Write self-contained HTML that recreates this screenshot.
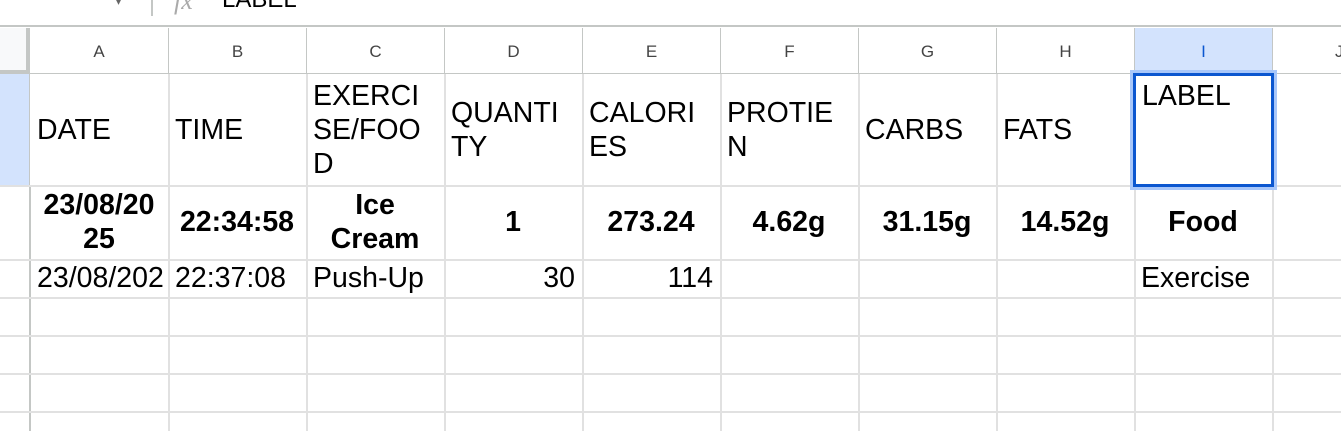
<!DOCTYPE html>
<html><head><meta charset="utf-8"><style>
body{margin:0;width:1341px;height:431px;overflow:hidden;background:#fff;font-family:"Liberation Sans",Arial,sans-serif;position:relative}
.a{position:absolute;box-sizing:border-box}
.vl{position:absolute;width:1px;background:#e1e1e1}
.hl{position:absolute;height:1px;background:#e1e1e1}
.ch{position:absolute;top:28px;height:46px;line-height:48px;text-align:center;color:#444;font-size:17px;border-right:1px solid #c4c7c5;border-bottom:1px solid #c4c7c5;box-sizing:border-box}
.c{position:absolute;font-size:28.5px;color:#000;line-height:34px;display:flex;flex-direction:column;justify-content:center;box-sizing:border-box;padding:0 7px;overflow:hidden;white-space:nowrap}
.b{font-weight:bold;text-align:center;align-items:center}
.r{text-align:right;align-items:flex-end}
</style></head><body>
<div class="a" style="left:0;top:0;width:1341px;height:27px;border-bottom:2px solid #c4c7c5">
 <div class="a" style="left:115px;top:-8px;color:#666;font-size:14px">▾</div>
 <div class="a" style="left:151px;top:0;width:2px;height:16px;background:#c4c7c5"></div>
 <div class="a" style="left:174px;top:-14px;color:#aaa;font-style:italic;font-family:'Liberation Serif',serif;font-size:26px">fx</div>
 <div class="a" style="left:222px;top:-14px;font-size:24px;color:#000">LABEL</div>
</div>
<div class="a" style="left:0;top:28px;width:30px;height:46px;background:#f8f9fa;border-right:4px solid #c4c7c5;border-bottom:4px solid #c4c7c5"></div>
<div class="ch" style="left:30px;width:139px">A</div>
<div class="ch" style="left:169px;width:138px">B</div>
<div class="ch" style="left:307px;width:138px">C</div>
<div class="ch" style="left:445px;width:138px">D</div>
<div class="ch" style="left:583px;width:138px">E</div>
<div class="ch" style="left:721px;width:138px">F</div>
<div class="ch" style="left:859px;width:138px">G</div>
<div class="ch" style="left:997px;width:138px">H</div>
<div class="ch" style="left:1135px;width:138px;background:#d3e3fd;color:#0b57d0">I</div>
<div class="ch" style="left:1273px;width:100px;text-align:left;padding-left:62px">J</div>
<div class="a" style="left:0;top:74px;width:30px;height:111px;background:#d3e3fd;border-right:1px solid #c4c7c5"></div>
<div class="a" style="left:0;top:185px;width:31px;height:246px;border-right:2px solid #c4c7c5"></div>
<div class="hl" style="left:0;top:185px;width:1341px;height:2px"></div>
<div class="hl" style="left:0;top:259px;width:1341px;height:2px"></div>
<div class="hl" style="left:0;top:297px;width:1341px;height:2px"></div>
<div class="hl" style="left:0;top:335px;width:1341px;height:2px"></div>
<div class="hl" style="left:0;top:373px;width:1341px;height:2px"></div>
<div class="hl" style="left:0;top:411px;width:1341px;height:2px"></div>
<div class="vl" style="left:168px;top:74px;height:357px;width:2px"></div>
<div class="vl" style="left:306px;top:74px;height:357px;width:2px"></div>
<div class="vl" style="left:444px;top:74px;height:357px;width:2px"></div>
<div class="vl" style="left:582px;top:74px;height:357px;width:2px"></div>
<div class="vl" style="left:720px;top:74px;height:357px;width:2px"></div>
<div class="vl" style="left:858px;top:74px;height:357px;width:2px"></div>
<div class="vl" style="left:996px;top:74px;height:357px;width:2px"></div>
<div class="vl" style="left:1134px;top:74px;height:357px;width:2px"></div>
<div class="vl" style="left:1272px;top:74px;height:357px;width:2px"></div>

<div class="c" style="left:30px;top:74px;width:138px;height:111px">DATE</div>
<div class="c" style="left:168px;top:74px;width:138px;height:111px">TIME</div>
<div class="c" style="left:306px;top:74px;width:138px;height:111px"><div>EXERCI</div><div>SE/FOO</div><div>D</div></div>
<div class="c" style="left:444px;top:74px;width:138px;height:111px"><div>QUANTI</div><div>TY</div></div>
<div class="c" style="left:582px;top:74px;width:138px;height:111px"><div>CALORI</div><div>ES</div></div>
<div class="c" style="left:720px;top:74px;width:138px;height:111px"><div>PROTIE</div><div>N</div></div>
<div class="c" style="left:858px;top:74px;width:138px;height:111px">CARBS</div>
<div class="c" style="left:996px;top:74px;width:138px;height:111px">FATS</div>
<div class="a" style="left:1130px;top:70px;width:147px;height:120px;border:3px solid #a8c7fa"></div>
<div class="a" style="left:1133px;top:73px;width:141px;height:114px;border:3px solid #0b57d0"></div>
<div class="a" style="left:1142px;top:79px;font-size:28.5px;line-height:34px">LABEL</div>

<div class="c b" style="left:30px;top:185px;width:138px;height:74px"><div>23/08/20</div><div>25</div></div>
<div class="c b" style="left:168px;top:185px;width:138px;height:74px">22:34:58</div>
<div class="c b" style="left:306px;top:185px;width:138px;height:74px"><div>Ice</div><div>Cream</div></div>
<div class="c b" style="left:444px;top:185px;width:138px;height:74px">1</div>
<div class="c b" style="left:582px;top:185px;width:138px;height:74px">273.24</div>
<div class="c b" style="left:720px;top:185px;width:138px;height:74px">4.62g</div>
<div class="c b" style="left:858px;top:185px;width:138px;height:74px">31.15g</div>
<div class="c b" style="left:996px;top:185px;width:138px;height:74px">14.52g</div>
<div class="c b" style="left:1134px;top:185px;width:138px;height:74px">Food</div>

<div class="c" style="left:30px;top:259px;width:138px;height:38px">23/08/202</div>
<div class="c" style="left:168px;top:259px;width:138px;height:38px">22:37:08</div>
<div class="c" style="left:306px;top:259px;width:138px;height:38px">Push-Up</div>
<div class="c r" style="left:444px;top:259px;width:138px;height:38px">30</div>
<div class="c r" style="left:582px;top:259px;width:138px;height:38px">114</div>
<div class="c" style="left:1134px;top:259px;width:138px;height:38px">Exercise</div>
</body></html>
